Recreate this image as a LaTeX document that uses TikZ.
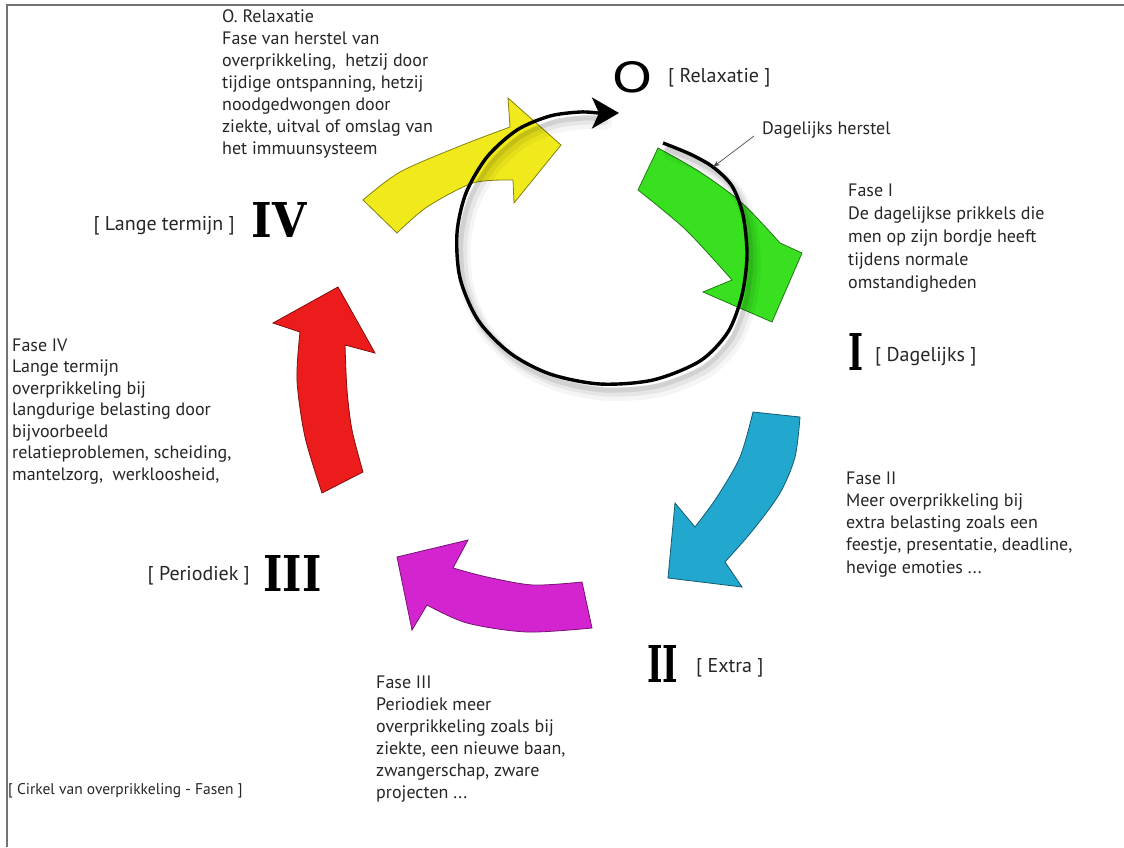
\documentclass[tikz,border=0pt]{standalone}
\usepackage{fontspec}
\usepackage{graphicx}
\setmainfont{PT Sans}
\newfontfamily\numfont{DejaVu Serif}
\newfontfamily\ofont{DejaVu Sans}
\usetikzlibrary{arrows.meta}
\definecolor{txt}{HTML}{262626}
\definecolor{yel}{HTML}{F0EA1C}
\definecolor{grn}{HTML}{38E020}
\definecolor{cya}{HTML}{22A8CF}
\definecolor{mag}{HTML}{D424D0}
\definecolor{rood}{HTML}{EC1C1C}
\begin{document}
\begin{tikzpicture}[x=1pt,y=-1pt,
  desc/.style={anchor=base west, align=left, inner sep=0, text=txt},
  tag/.style={anchor=west, inner sep=0, text=txt, font=\fontsize{20}{22}\selectfont},
  num/.style={inner sep=0, text=black},
  bigarrow/.style={draw=#1!55!black, line width=0.8pt, fill=#1},
  ring/.style={line width=3.4pt, black}
]
\useasboundingbox (0,0) rectangle (1124,847);
\fill[white] (0,0) rectangle (1124,847);
% frame
\draw[black!55, line width=1.6pt] (7,847) -- (7,5) -- (1124,5);

% coloured arrows
\filldraw[bigarrow=yel] plot[smooth] coordinates {(363,200) (400,172) (460,146) (510,127)}
  -- (508,98) -- (561,145) -- (514,203)
  -- plot[smooth] coordinates {(513,180) (473,183) (427,207) (397,233)} -- cycle;
\filldraw[bigarrow=grn] plot[smooth] coordinates {(658,148) (700,172) (742,203) (780,243)}
  -- (802,253) -- (772,322) -- (703,292)
  -- plot[smooth] coordinates {(732,280) (686,230) (638,190)} -- cycle;
\filldraw[bigarrow=cya] plot[smooth] coordinates {(800,417) (795,457) (780,493) (753,530) (725,562)}
  -- (742,587) -- (668,578) -- (675,503)
  -- plot[smooth] coordinates {(695,527) (717,497) (740,457) (753,412)} -- cycle;
\filldraw[bigarrow=mag] plot[smooth] coordinates {(582,582) (533,585) (487,577) (453,568)}
  -- (468,540) -- (397,557) -- (412,630)
  -- plot[smooth] coordinates {(427,605) (467,623) (527,632) (592,628)} -- cycle;
\filldraw[bigarrow=rood] plot[smooth] coordinates {(322,493) (305,437) (297,380) (300,332)}
  -- (273,323) -- (338,287) -- (375,353)
  -- plot[smooth] coordinates {(345,345) (347,390) (352,430) (363,472)} -- cycle;

% ring shadow
\foreach \dx/\dy/\w/\o in {7/10/14/0.04, 6/8/9/0.06, 4/6/5/0.09}{
  \draw[shift={(\dx,\dy)}, line width=\w pt, black, opacity=\o, line cap=round]
    plot[smooth] coordinates {(663,143) (690,154) (713,167) (732,186) (743,215) (747,255) (742,295) (728,332) (700,361) (653,380) (600,384) (550,374) (510,353) (478,320) (460,278) (457,233) (466,193) (487,157) (517,130) (550,116) (580,112) (598,113)};
}
% ring
\draw[ring, -{Stealth[length=27pt,width=31pt,inset=7pt]}]
  plot[smooth] coordinates {(663,143) (690,154) (713,167) (732,186) (743,215) (747,255) (742,295) (728,332) (700,361) (653,380) (600,384) (550,374) (510,353) (478,320) (460,278) (457,233) (466,193) (487,157) (517,130) (550,116) (580,112) (598,113)}
  -- (619,113);

% O relaxatie
\node[num] (nO) at (632,77) {\resizebox{40pt}{31pt}{\ofont O}};
\node[tag] (tO) at (668,78) {[ Relaxatie ]};

% Dagelijks herstel
\node[anchor=west, inner sep=0, text=txt, font=\fontsize{18}{20}\selectfont] (dh) at (762,130) {Dagelijks herstel};
\coordinate (dhs) at (754,136);
\coordinate (dhe) at (713,167);
\draw[black!70, line width=0.7pt, -{Stealth[length=7pt,width=5pt]}] (dhs) -- (dhe);

% numerals
\node[num] (nI) at (855.5,352) {\resizebox{15pt}{37pt}{\numfont\bfseries I}};
\node[tag] (tI) at (875,357) {[ Dagelijks ]};
\node[num] (nII) at (662.5,664) {\resizebox{31pt}{37pt}{\numfont\bfseries II}};
\node[tag] (tII) at (696,668) {[ Extra ]};
\node[num] (nIII) at (292.5,573) {\resizebox{58pt}{36pt}{\numfont\bfseries III}};
\node[tag, anchor=east] (tIII) at (250,576) {[ Periodiek ]};
\node[num] (nIV) at (279,220) {\resizebox{55pt}{35pt}{\numfont\bfseries IV}};
\node[tag, anchor=east] (tIV) at (235,226) {[ Lange termijn ]};

% descriptions (anchored at the baseline of the last line)
\node[desc, font=\fontsize{18}{22}\selectfont] (d0) at (222,154) {O. Relaxatie\\Fase van herstel van\\overprikkeling,\ \ hetzij door\\tijdige ontspanning, hetzij\\noodgedwongen door\\ziekte, uitval of omslag van\\het immuunsysteem};
\node[desc, font=\fontsize{18}{23}\selectfont] (d1) at (848,288) {Fase I\\De dagelijkse prikkels die\\men op zijn bordje heeft\\tijdens normale\\omstandigheden};
\node[desc, font=\fontsize{18}{22.2}\selectfont] (d2) at (846,573) {Fase II\\Meer overprikkeling bij\\extra belasting zoals een\\feestje, presentatie, deadline,\\hevige emoties ...};
\node[desc, font=\fontsize{18}{22}\selectfont] (d3) at (376,798) {Fase III\\Periodiek meer\\overprikkeling zoals bij\\ziekte, een nieuwe baan,\\zwangerschap, zware\\projecten ...};
\node[desc, font=\fontsize{18}{21.5}\selectfont] (d4) at (12,480) {Fase IV\\Lange termijn\\overprikkeling bij\\langdurige belasting door\\bijvoorbeeld\\relatieproblemen, scheiding,\\mantelzorg,\ \ werkloosheid,};

\node[anchor=west, inner sep=0, text=txt, font=\fontsize{15.5}{18}\selectfont] (cap) at (8,791) {[ Cirkel van overprikkeling - Fasen ]};
\end{tikzpicture}
\end{document}
